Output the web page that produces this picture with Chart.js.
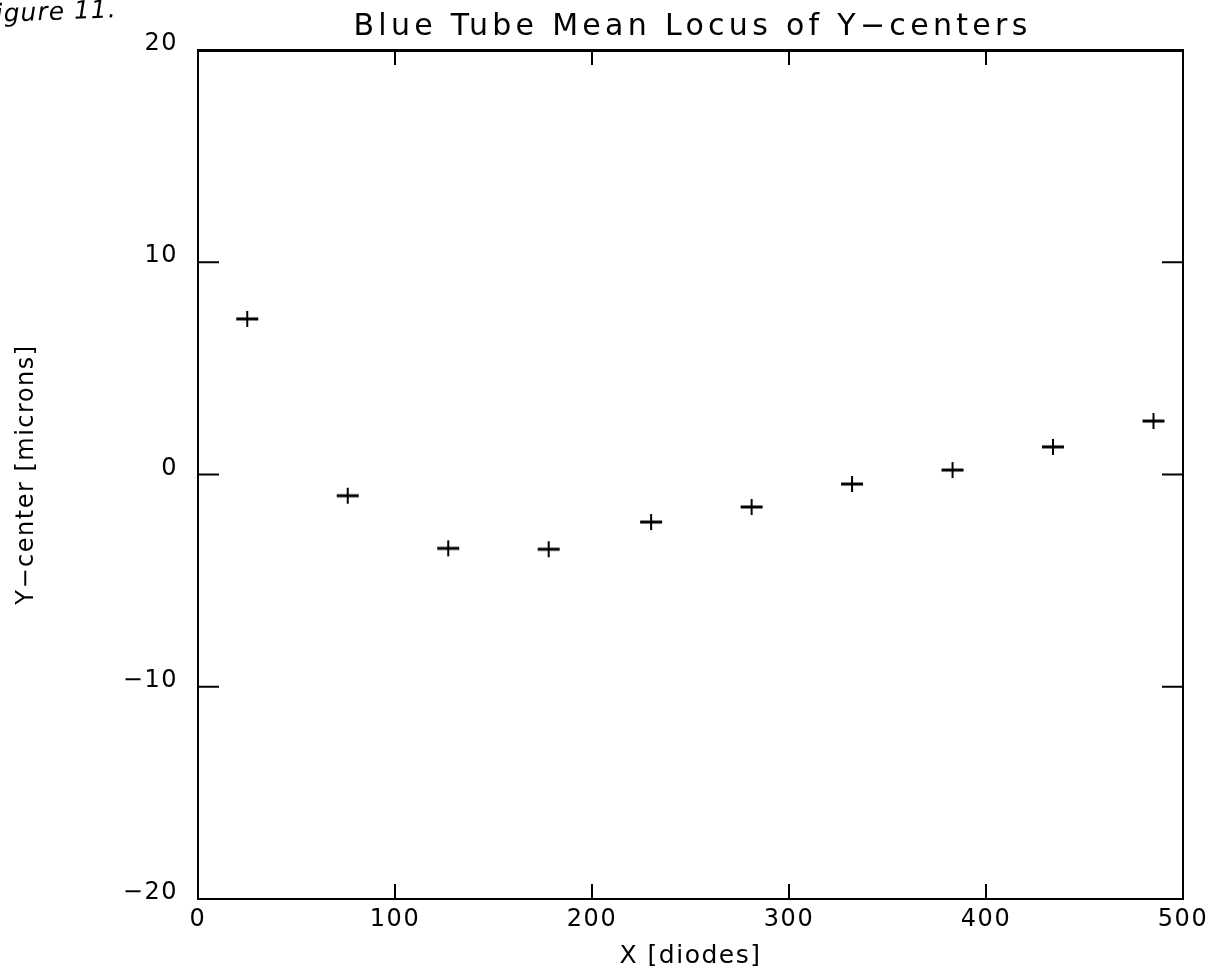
<!DOCTYPE html>
<html>
<head>
<meta charset="utf-8">
<script src="https://cdn.jsdelivr.net/npm/chart.js@4.4.0/dist/chart.umd.min.js"></script>
<style>
  body { margin: 0; background: #fff; }
  #wrap { width: 1210px; height: 972px; position: relative; }
</style>
</head>
<body>
<div id="wrap"><canvas id="locus"></canvas></div>
<script>
// data
const xDiodes = [25, 76, 127, 178, 230, 281, 332, 383, 434, 485];
const yCenter = [7.33, -1.0, -3.48, -3.52, -2.24, -1.53, -0.45, 0.21, 1.30, 2.52];
const xTicks = [0, 100, 200, 300, 400, 500];
const yTicks = [-20, -10, 0, 10, 20];
const chartTitle = "Blue Tube Mean Locus of Y\u2212centers";
const xLabel = "X [diodes]";
const yLabel = "Y\u2212center [microns]";
const figNote = "igure 11.";

// plus marker, a bit wider than tall like the plotter's
const cross = document.createElement("canvas");
cross.width = 24; cross.height = 18;
(function () {
    const c = cross.getContext("2d");
    c.strokeStyle = "#000";
    c.lineWidth = 3;
    c.beginPath(); c.moveTo(1, 9); c.lineTo(23, 9); c.stroke();
    c.lineWidth = 2;
    c.beginPath(); c.moveTo(12, 1); c.lineTo(12, 17); c.stroke();
})();

const family = "'DejaVu Sans', sans-serif";

//--------------- inward tick marks + title + note ---------------//
const plotterBits = {
    id: "plotterBits",
    beforeDraw(chart) {
        chart.ctx.letterSpacing = "1.5px";
    },
    afterDraw(chart) {
        const ctx = chart.ctx;
        const a = chart.chartArea;
        const xs = chart.scales.x, ys = chart.scales.y;
        ctx.save();
        ctx.strokeStyle = "#000";
        ctx.lineWidth = 2;
        ctx.beginPath();
        xTicks.slice(1, -1).forEach(v => {
            const px = xs.getPixelForValue(v);
            ctx.moveTo(px, a.bottom); ctx.lineTo(px, a.bottom - 15);
            ctx.moveTo(px, a.top); ctx.lineTo(px, a.top + 15);
        });
        yTicks.slice(1, -1).forEach(v => {
            const py = ys.getPixelForValue(v);
            ctx.moveTo(a.left, py); ctx.lineTo(a.left + 21, py);
            ctx.moveTo(a.right, py); ctx.lineTo(a.right - 21, py);
        });
        ctx.stroke();

        ctx.fillStyle = "#000";
        ctx.letterSpacing = "4.3px";
        ctx.font = "30px " + family;
        ctx.textAlign = "center";
        ctx.textBaseline = "middle";
        ctx.fillText(chartTitle, (a.left + a.right) / 2 + 2, 27);

        ctx.letterSpacing = "1px";
        ctx.font = "italic 25px " + family;
        ctx.textAlign = "left";
        ctx.textBaseline = "alphabetic";
        ctx.translate(-4, 22);
        ctx.rotate(-0.04);
        ctx.fillText(figNote, 0, 0);
        ctx.restore();
    }
};

new Chart(document.getElementById("locus"), {
    type: "scatter",
    data: {
        datasets: [{
            label: "mean Y-center",
            data: xDiodes.map((x, i) => ({ x: x, y: yCenter[i] })),
            pointStyle: cross,
            pointRadius: 10,
            pointHoverRadius: 10,
            showLine: false
        }]
    },
    options: {
        responsive: true,
        maintainAspectRatio: false,
        animation: false,
        events: [],
        layout: { padding: { top: 50, right: 27, left: 0, bottom: 0 } },
        plugins: {
            legend: { display: false },
            tooltip: { enabled: false },
            title: { display: false }
        },
        scales: {
            x: {
                type: "linear",
                position: "bottom",
                min: 0, max: 500,
                afterBuildTicks: s => { s.ticks = xTicks.map(v => ({ value: v })); },
                afterFit: s => { s.height = 73; s.paddingLeft = 0; s.paddingRight = 0; },
                grid: { display: false, drawTicks: false },
                border: { display: true, color: "#000", width: 2 },
                ticks: { color: "#000", font: { family: family, size: 24 }, padding: 6, maxRotation: 0, autoSkip: false },
                title: { display: true, text: xLabel, color: "#000", font: { family: family, size: 25 }, padding: { top: 2, bottom: 1 } }
            },
            y: {
                type: "linear",
                position: "left",
                min: -20, max: 20,
                afterBuildTicks: s => { s.ticks = yTicks.map(v => ({ value: v })); },
                afterFit: s => { s.width = 198; s.paddingTop = 0; s.paddingBottom = 0; },
                grid: { display: false, drawTicks: false },
                border: { display: true, color: "#000", width: 2 },
                ticks: { color: "#000", font: { family: family, size: 24 }, padding: 20, labelOffset: -6, autoSkip: false,
                         callback: v => v < 0 ? "\u2212" + Math.abs(v) : String(v) },
                title: { display: true, text: yLabel, color: "#000", font: { family: family, size: 24 }, padding: { top: 12, bottom: 0 } }
            },
            x2: {
                type: "linear",
                position: "top",
                min: 0, max: 500,
                afterFit: s => { s.height = 0; },
                grid: { display: false, drawTicks: false },
                border: { display: true, color: "#000", width: 3 },
                ticks: { display: false }
            },
            y2: {
                type: "linear",
                position: "right",
                min: -20, max: 20,
                afterFit: s => { s.width = 0; },
                grid: { display: false, drawTicks: false },
                border: { display: true, color: "#000", width: 2 },
                ticks: { display: false }
            }
        }
    },
    plugins: [plotterBits]
});
</script>
</body>
</html>
